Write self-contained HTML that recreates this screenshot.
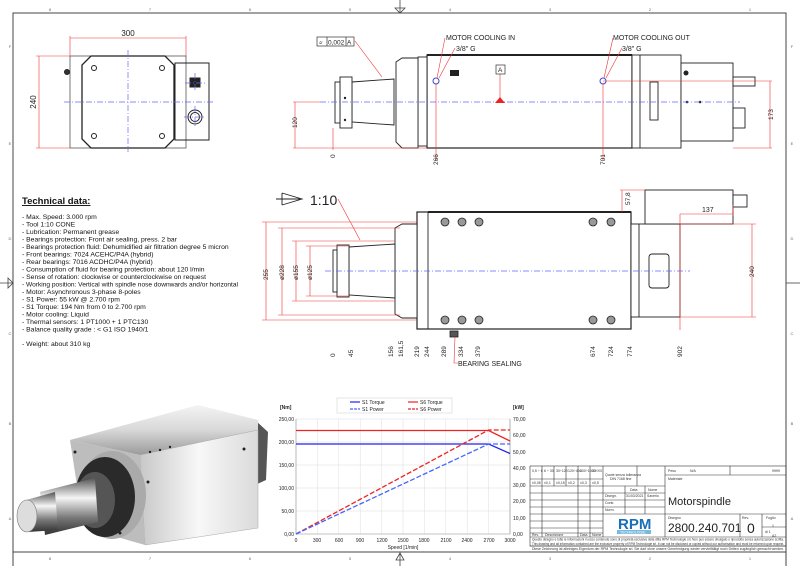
<!DOCTYPE html>
<html><head><meta charset="utf-8"><style>
html,body{margin:0;padding:0;background:#fff;width:800px;height:566px;overflow:hidden}
svg{display:block;font-family:"Liberation Sans",Arial,sans-serif}
</style></head><body>
<svg width="800" height="566" viewBox="0 0 800 566" xmlns="http://www.w3.org/2000/svg">
<defs>
<linearGradient id="met" x1="0" y1="0" x2="0" y2="1"><stop offset="0" stop-color="#f4f4f4"/><stop offset=".5" stop-color="#d8d8d8"/><stop offset="1" stop-color="#9a9a9a"/></linearGradient>
<linearGradient id="met2" x1="0" y1="0" x2="1" y2="0"><stop offset="0" stop-color="#c8c8c8"/><stop offset=".5" stop-color="#f8f8f8"/><stop offset="1" stop-color="#dadada"/></linearGradient>
<linearGradient id="shaft" x1="0" y1="0" x2="0" y2="1"><stop offset="0" stop-color="#555"/><stop offset=".35" stop-color="#f5f5f5"/><stop offset=".7" stop-color="#777"/><stop offset="1" stop-color="#333"/></linearGradient>
</defs>
<!-- frame -->
<g stroke="#444" fill="none" stroke-width="1">
<path d="M13 566 V13 H786 V566"/>
<path d="M13 552 H786"/>
</g>
<g font-size="4" fill="#666" text-anchor="middle">
<text x="50" y="11">8</text><text x="150" y="11">7</text><text x="250" y="11">6</text><text x="350" y="11">5</text><text x="450" y="11">4</text><text x="550" y="11">3</text><text x="650" y="11">2</text><text x="750" y="11">1</text>
<text x="50" y="560">8</text><text x="150" y="560">7</text><text x="250" y="560">6</text><text x="350" y="560">5</text><text x="450" y="560">4</text><text x="550" y="560">3</text><text x="650" y="560">2</text><text x="750" y="560">1</text>
<text x="10" y="48">F</text><text x="10" y="145">E</text><text x="10" y="240">D</text><text x="10" y="335">C</text><text x="10" y="425">B</text><text x="10" y="520">A</text>
<text x="792" y="48">F</text><text x="792" y="145">E</text><text x="792" y="240">D</text><text x="792" y="335">C</text><text x="792" y="425">B</text><text x="792" y="520">A</text>
</g>
<g stroke="#444" stroke-width=".8" fill="none">
<path d="M400 0 V13 M395 8 L400 13 L405 8 Z"/>
<path d="M0 283 H13 M8 278 L13 283 L8 288 Z"/>
<path d="M786 283 H800"/>
<path d="M400 552 V566 M396 560 L400 553 L404 560 Z"/>
</g>

<!-- END VIEW top-left -->
<g stroke="#222" fill="none">
<rect x="70" y="56" width="116" height="92" fill="#fff" stroke="#555" stroke-width=".8"/>
<path d="M91 56 H165 L174 65 V139 L165 148 H91 L82 139 V65 Z" stroke-width="1.3"/>
<rect x="175" y="63" width="34" height="77" stroke-width="1"/>
<circle cx="94" cy="68" r="2.5"/><circle cx="162" cy="68" r="2.5"/><circle cx="94" cy="136" r="2.5"/><circle cx="162" cy="136" r="2.5"/>
<rect x="190" y="78" width="10" height="9" fill="#222"/>
<circle cx="195" cy="117" r="7"/><circle cx="195" cy="117" r="4.5"/>
<circle cx="67" cy="72" r="2.5" fill="#333"/>
</g>
<g stroke="#66f" stroke-dasharray="6 2 1 2" stroke-width=".7"><path d="M128 50 V152 M64 102 H215 M195 73 V92 M185 83 H205 M195 106 V128 M184 117 H206"/></g>
<g stroke="#e33" stroke-width=".6" fill="none"><path d="M70 38 H186 M70 36 V56 M186 36 V56 M39 56 V148 M36 56 H70 M36 148 H70"/></g>
<text x="128" y="36" font-size="8" text-anchor="middle" fill="#222">300</text>
<text x="36" y="102" font-size="8" text-anchor="middle" fill="#222" transform="rotate(-90 36 102)">240</text>

<!-- SIDE VIEW top-right -->
<g stroke="#222" fill="#fff" stroke-width=".9">
<rect x="427" y="55" width="205" height="93" stroke-width="1.2"/>
<path d="M427 55 H632" stroke-width="2"/>
<rect x="418" y="57" width="9" height="89"/>
<path d="M396 62 L402 58 H418 V148 H402 L396 142 Z"/>
<path d="M352 82 L394 79 V125 L352 122 Z"/>
<rect x="340" y="77" width="12" height="51"/>
<rect x="335" y="82" width="5" height="41"/>
<rect x="632" y="55" width="49" height="93"/><path d="M640 55 V148" fill="none"/>
<rect x="681" y="63" width="52" height="78"/>
<rect x="650" y="82" width="8" height="38"/>
<rect x="733" y="77" width="22" height="9"/>
<rect x="733" y="108" width="12" height="20"/>
</g>
<g fill="#222"><circle cx="686" cy="73" r="2.5"/><circle cx="687" cy="102" r="1.3"/><circle cx="700" cy="102" r="1.3"/><rect x="450" y="70" width="9" height="6"/><circle cx="345" cy="98" r="1.2"/><circle cx="345" cy="120" r="1.2"/></g>
<g stroke="#44c" fill="none"><circle cx="436" cy="81" r="3"/><circle cx="603" cy="81" r="3"/></g>
<g stroke="#66f" stroke-dasharray="6 2 1 2" stroke-width=".7"><path d="M320 102 H740"/></g>
<g stroke="#e33" stroke-width=".6" fill="none">
<path d="M355 41 L382 77 M445 38 L437 78 M455 48 L439 78 M613 38 L604 78 M622 48 L606 78"/>
<path d="M603 81 H772 M733 148 H772 M770 81 V148 M295 102 V148 M293 148 H427 M293 102 H320 M436 84 V160 M603 84 V160 M333 128 V150 M500 74 V102"/>
</g>
<path d="M495 103 L500 97 L505 103 Z" fill="#e22"/>
<g stroke="#333" fill="none" stroke-width=".7"><rect x="317" y="37" width="37" height="9"/><path d="M327 37 V46 M346 37 V46"/><rect x="496" y="65" width="9" height="9"/></g>
<g font-size="6.5" fill="#222">
<text x="319" y="44.5" font-size="5">⌭</text><text x="328" y="44.5">0,002</text><text x="347" y="44.5">A</text>
<text x="498" y="72">A</text>
<text x="446" y="40" font-size="7">MOTOR COOLING IN</text><text x="456" y="51" font-size="7">3/8" G</text>
<text x="613" y="40" font-size="7">MOTOR COOLING OUT</text><text x="622" y="51" font-size="7">3/8" G</text>
<text x="0" y="0" transform="translate(297,128) rotate(-90)">120</text>
<text x="0" y="0" transform="translate(335,158) rotate(-90)">0</text>
<text x="0" y="0" transform="translate(438,165) rotate(-90)">266</text>
<text x="0" y="0" transform="translate(605,165) rotate(-90)">701</text>
<text x="0" y="0" transform="translate(773,120) rotate(-90)">173</text>
</g>

<!-- TECH DATA -->
<g fill="#111" font-size="6.8">
<text x="22" y="204" font-size="9.5" font-weight="bold" text-decoration="underline">Technical data:</text>
<text x="22" y="219">- Max. Speed: 3.000 rpm</text>
<text x="22" y="226.5">- Tool 1:10 CONE</text>
<text x="22" y="234">- Lubrication: Permanent grease</text>
<text x="22" y="241.5">- Bearings protection: Front air sealing, press. 2 bar</text>
<text x="22" y="249">- Bearings protection fluid: Dehumidified air filtration degree 5 micron</text>
<text x="22" y="256.5">- Front bearings: 7024 ACEHC/P4A (hybrid)</text>
<text x="22" y="264">- Rear bearings: 7016 ACDHC/P4A (hybrid)</text>
<text x="22" y="271.5">- Consumption of fluid for bearing protection: about 120 l/min</text>
<text x="22" y="279">- Sense of rotation: clockwise or counterclockwise on request</text>
<text x="22" y="286.5" textLength="216" lengthAdjust="spacingAndGlyphs">- Working position: Vertical with spindle nose downwards and/or horizontal</text>
<text x="22" y="294">- Motor: Asynchronous 3-phase 8-poles</text>
<text x="22" y="301.5">- S1 Power: 55 kW @ 2.700 rpm</text>
<text x="22" y="309">- S1 Torque: 194 Nm from 0 to 2.700 rpm</text>
<text x="22" y="316.5">- Motor cooling: Liquid</text>
<text x="22" y="324">- Thermal sensors:  1 PT1000 +  1 PTC130</text>
<text x="22" y="331.5">- Balance quality grade : &lt; G1 ISO 1940/1</text>
<text x="22" y="346">- Weight: about 310 kg</text>
</g>

<!-- SECTION VIEW -->
<g stroke="#222" fill="#fff" stroke-width=".9">
<rect x="417" y="212" width="214" height="117" stroke-width="1.2"/>
<path d="M428 212 V329" fill="none"/>
<path d="M428 212 H631" stroke-width="2" fill="none"/>
<path d="M395 228 L402 224 H417 V318 H402 L395 314 Z"/>
<path d="M349 247 L395 244 V298 L349 295 Z"/>
<rect x="337" y="245" width="12" height="52"/>
<rect x="333" y="250" width="4" height="42"/>
<rect x="631" y="224" width="49" height="93"/><path d="M639 224 V317" fill="none"/>
<rect x="645" y="190" width="88" height="34"/>
<rect x="733" y="195" width="14" height="12"/>
<rect x="649" y="254" width="20" height="34" rx="3"/>
</g>
<g stroke="#222" fill="#999" stroke-width=".8">
<circle cx="445" cy="222" r="4"/><circle cx="462" cy="222" r="4"/><circle cx="479" cy="222" r="4"/><circle cx="593" cy="222" r="4"/><circle cx="611" cy="222" r="4"/>
<circle cx="445" cy="320" r="4"/><circle cx="462" cy="320" r="4"/><circle cx="479" cy="320" r="4"/><circle cx="593" cy="320" r="4"/><circle cx="611" cy="320" r="4"/>
<rect x="450" y="331" width="8" height="6" fill="#555"/>
</g>
<g stroke="#66f" stroke-dasharray="6 2 1 2" stroke-width=".7"><path d="M325 271 H690"/></g>
<g stroke="#e33" stroke-width=".6" fill="none">
<path d="M266 222 V320 M262 222 H418 M262 320 H418 M282 228 V315 M278 228 H400 M278 315 H400 M296 241 V301 M292 241 H395 M292 301 H395 M310 246 V296 M306 246 H349 M306 296 H349"/>
<path d="M752 224 V317 M680 224 H756 M680 317 H756 M680 214 H733 M733 205 V216 M680 214 V330 M620 190 H645 M622 190 V212"/>
<path d="M338 199 L360 240 M455 337 L454 363 H458"/>
</g>
<g stroke="#222" fill="none" stroke-width=".9"><path d="M276 199 H300 M282 193 V205 M282 193 L302 199 L282 205"/></g>
<g font-size="6.5" fill="#222">
<text x="310" y="205" font-size="14">1:10</text>
<text x="458" y="366" font-size="7">BEARING SEALING</text>
<text x="702" y="212" font-size="7">137</text>
<text x="0" y="0" transform="translate(268,280) rotate(-90)">255</text>
<text x="0" y="0" transform="translate(284,280) rotate(-90)">ø228</text>
<text x="0" y="0" transform="translate(298,280) rotate(-90)">ø155</text>
<text x="0" y="0" transform="translate(312,280) rotate(-90)">ø125</text>
<text x="0" y="0" transform="translate(754,277) rotate(-90)">240</text>
<text x="0" y="0" transform="translate(630,205) rotate(-90)">57,8</text>
<g transform="translate(0,357)">
<text transform="translate(335,0) rotate(-90)">0</text>
<text transform="translate(353,0) rotate(-90)">45</text>
<text transform="translate(393,0) rotate(-90)">156</text>
<text transform="translate(403,0) rotate(-90)">161,5</text>
<text transform="translate(419,0) rotate(-90)">219</text>
<text transform="translate(429,0) rotate(-90)">244</text>
<text transform="translate(446,0) rotate(-90)">289</text>
<text transform="translate(463,0) rotate(-90)">334</text>
<text transform="translate(480,0) rotate(-90)">379</text>
<text transform="translate(595,0) rotate(-90)">674</text>
<text transform="translate(613,0) rotate(-90)">724</text>
<text transform="translate(632,0) rotate(-90)">774</text>
<text transform="translate(682,0) rotate(-90)">902</text>
</g>
</g>

<!-- PHOTO -->
<g>
<path d="M200 408 L255 420 L268 432 L266 480 L255 485 Z" fill="#555"/>
<path d="M70 440 L198 405 L258 420 L258 432 L140 455 Z" fill="url(#met)"/>
<path d="M140 455 L258 430 L258 528 L145 545 Z" fill="url(#met2)" stroke="#aaa" stroke-width=".5"/>
<path d="M70 440 L140 455 L145 545 L110 535 L80 505 Z" fill="#bdbdbd"/>
<ellipse cx="112" cy="495" rx="34" ry="44" fill="#aaa"/>
<ellipse cx="105" cy="497" rx="30" ry="40" fill="#2a2a2a"/>
<ellipse cx="95" cy="500" rx="20" ry="28" fill="#555"/>
<path d="M40 492 L95 478 L98 522 L45 535 Z" fill="url(#shaft)"/>
<path d="M26 500 L55 492 L58 530 L28 532 Z" fill="url(#shaft)"/>
<ellipse cx="27" cy="516" rx="10" ry="16" fill="#ddd" stroke="#777" stroke-width=".6"/>
<g fill="#222"><circle cx="148" cy="482" r="1.5"/><circle cx="244" cy="449" r="1.5"/><circle cx="150" cy="452" r="1.2"/><circle cx="160" cy="450" r="1.2"/><circle cx="170" cy="447" r="1.2"/><circle cx="75" cy="452" r="1.5"/><circle cx="120" cy="533" r="1.5"/></g>
</g>

<!-- CHART -->
<g font-size="5" fill="#222">
<g stroke="#ddd" stroke-width=".5">
<path d="M296 419 H510 M296 442 H510 M296 465 H510 M296 488 H510 M296 511 H510"/>
<path d="M317.4 419 V534 M338.8 419 V534 M360.2 419 V534 M381.6 419 V534 M403 419 V534 M424.4 419 V534 M445.8 419 V534 M467.2 419 V534 M488.6 419 V534 M510 419 V534"/>
</g>
<path d="M296 419 V534 H510 V419" stroke="#888" fill="none" stroke-width=".6"/>
<rect x="337" y="398" width="115" height="15" fill="#fff" stroke="#ccc" stroke-width=".5"/>
<path d="M350 402 H360" stroke="#22f" stroke-width="1.2"/><text x="362" y="404">S1 Torque</text>
<path d="M350 409 H360" stroke="#46f" stroke-width="1.2" stroke-dasharray="3 1"/><text x="362" y="411">S1 Power</text>
<path d="M408 402 H418" stroke="#e22" stroke-width="1.2"/><text x="420" y="404">S6 Torque</text>
<path d="M408 409 H418" stroke="#e22" stroke-width="1.2" stroke-dasharray="3 1"/><text x="420" y="411">S6 Power</text>
<text x="280" y="409" font-weight="bold">[Nm]</text><text x="513" y="409" font-weight="bold">[kW]</text>
<g text-anchor="end"><text x="294" y="421">250,00</text><text x="294" y="444">200,00</text><text x="294" y="467">150,00</text><text x="294" y="490">100,00</text><text x="294" y="513">50,00</text><text x="294" y="536">0,00</text></g>
<g><text x="513" y="421">70,00</text><text x="513" y="437">60,00</text><text x="513" y="454">50,00</text><text x="513" y="470">40,00</text><text x="513" y="487">30,00</text><text x="513" y="503">20,00</text><text x="513" y="520">10,00</text><text x="513" y="536">0,00</text></g>
<g text-anchor="middle"><text x="296" y="542">0</text><text x="317" y="542">300</text><text x="339" y="542">600</text><text x="360" y="542">900</text><text x="382" y="542">1200</text><text x="403" y="542">1500</text><text x="424" y="542">1800</text><text x="446" y="542">2100</text><text x="467" y="542">2400</text><text x="489" y="542">2700</text><text x="510" y="542">3000</text>
<text x="403" y="549">Speed [1/min]</text></g>
<path d="M296 430.5 H488.6 L510 441" stroke="#e22" stroke-width="1.3" fill="none"/>
<path d="M296 444 H488.6 L510 453.5" stroke="#22e" stroke-width="1.3" fill="none"/>
<path d="M296 534 L488.6 430 H510" stroke="#e22" stroke-width="1.3" fill="none" stroke-dasharray="5 2"/>
<path d="M296 534 L488.6 444 H510" stroke="#46f" stroke-width="1.3" fill="none" stroke-dasharray="5 2"/>
</g>

<!-- TITLE BLOCK -->
<g stroke="#333" stroke-width=".6" fill="none">
<rect x="530" y="466" width="256" height="80"/>
<path d="M603 466 V537 M665 466 V537 M530 537 H786 M530 546 H786"/>
<path d="M530 479 H603 M530 486 H665 M530 493 H603 M530 500 H665 M530 507 H665 M530 514 H665 M530 521 H603 M530 528 H603 M530 533 H603"/>
<path d="M542 466 V486 M554 466 V486 M566 466 V486 M578 466 V486 M590 466 V486 M542 486 V537 M578 486 V537 M590 486 V537"/>
<path d="M637 466 V486 M625 486 V514 M645 486 V514 M603 493 H665"/>
<path d="M665 475 H786 M665 514 H786 M730 466 V475 M740 514 V537 M762 514 V537 M762 527 H786"/>
</g>
<g font-size="3.5" fill="#333">
<text x="532" y="472">0,5 ÷ 6</text><text x="544" y="472">6 ÷ 30</text><text x="556" y="472">30÷120</text><text x="568" y="472">120÷400</text><text x="580" y="472">400÷1000</text><text x="592" y="472" textLength="10" lengthAdjust="spacingAndGlyphs">1000÷2000</text>
<text x="532" y="484">±0,05</text><text x="544" y="484">±0,1</text><text x="556" y="484">±0,15</text><text x="568" y="484">±0,2</text><text x="580" y="484">±0,3</text><text x="592" y="484">±0,5</text>
<text x="605" y="476">Quote senza tolleranza</text><text x="610" y="480">DIN 7168 fine</text>
<text x="630" y="491">Data</text><text x="648" y="491">Nome</text>
<text x="605" y="497">Disegn.</text><text x="626" y="497">31/03/2021</text><text x="647" y="497">Saverio</text>
<text x="605" y="504">Contr.</text><text x="605" y="511">Norm.</text>
<text x="532" y="536">Rev.</text><text x="545" y="536">Descrizione</text><text x="580" y="536">Data</text><text x="592" y="536">Nome</text>
<text x="668" y="472">Peso</text><text x="690" y="472">N/A</text><text x="772" y="472">9999</text>
<text x="668" y="480">Materiale</text>
<text x="668" y="519">Disegno</text><text x="742" y="519">Rev.</text><text x="766" y="519">Foglio</text>
<text x="772" y="527">1</text><text x="765" y="533">di  1</text><text x="772" y="537">A2</text>
<text x="532" y="540.5" textLength="252" lengthAdjust="spacingAndGlyphs">Questo disegno e tutte le informazioni in esso contenute sono di proprietà esclusiva della ditta RPM Technologie srl. Non può essere divulgato o riprodotto senza autorizzazione scritta.</text>
<text x="532" y="545" textLength="252" lengthAdjust="spacingAndGlyphs">This drawing and all information contained are the exclusive property of RPM Technologie srl. It can not be disclosed or copied without our authorisation and must be returned upon request.</text>
<text x="532" y="550" textLength="252" lengthAdjust="spacingAndGlyphs">Diese Zeichnung ist alleiniges Eigentum der RPM Technologie srl. Sie darf ohne unsere Genehmigung weder vervielfältigt noch Dritten zugänglich gemacht werden.</text>
</g>
<text x="668" y="505" font-size="11" fill="#222">Motorspindle</text>
<text x="668" y="532" font-size="12" fill="#222">2800.240.701</text>
<text x="747" y="533" font-size="14" fill="#222">0</text>
<text x="618" y="529" font-size="15" font-weight="bold" fill="#1a6fb5">RPM</text>
<rect x="617" y="530" width="34" height="4" fill="#7ab8e0"/>
<text x="620" y="533.5" font-size="3.5" fill="#fff">TECHNOLOGIE</text>
</svg>
</body></html>
